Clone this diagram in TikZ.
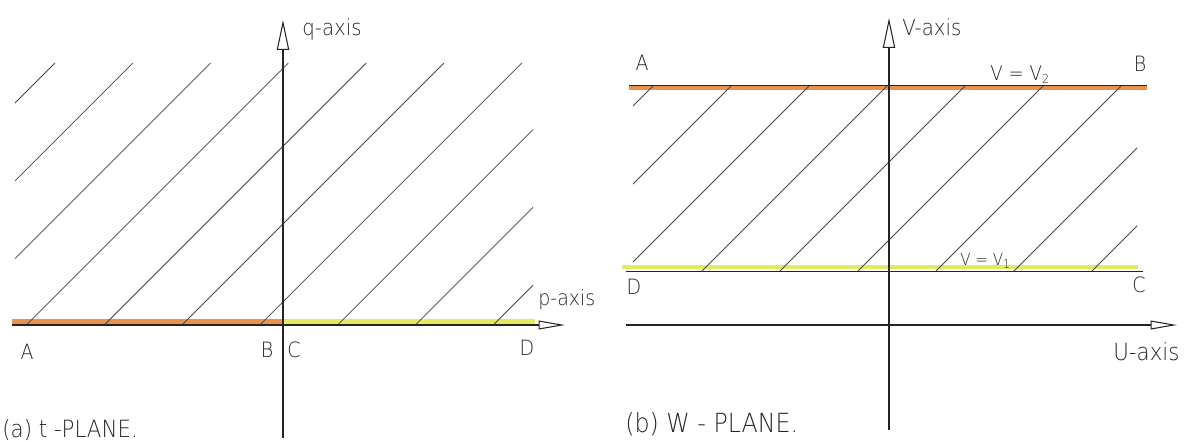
\documentclass[tikz,border=0pt]{standalone}
\usepackage{fontspec}
\usetikzlibrary{arrows.meta}
\newfontfamily\hand[FakeStretch=0.9]{DejaVu Sans ExtraLight}
\definecolor{orangeband}{RGB}{232,146,78}
\definecolor{yellowband}{RGB}{226,234,96}
\definecolor{ink}{RGB}{40,36,34}
\newcommand{\lowsub}[1]{{\fontsize{7}{7}\selectfont\raisebox{-0.45ex}{#1}}}
\begin{document}
\begin{tikzpicture}[x=0.02cm,y=-0.02cm,
  axisline/.style={line width=0.75pt, draw=ink},
  hatchline/.style={line width=0.45pt, draw=ink!85},
  oband/.style={line width=2.8pt, draw=orangeband},
  yband/.style={line width=2.8pt, draw=yellowband},
  vtip/.style={-{Triangle[open,length=17pt,width=7pt,line width=0.6pt]}},
  htip/.style={-{Triangle[open,length=15pt,width=5pt,line width=0.6pt]}},
  ptlbl/.style={font=\hand\fontsize{12}{12}\selectfont, inner sep=0pt, text=ink},
  axlbl/.style={font=\hand\fontsize{12.5}{12.5}\selectfont, inner sep=0pt, anchor=base west, text=ink},
  caplbl/.style={inner sep=0pt, anchor=base west, text=ink}]

\useasboundingbox (0,0) rectangle (1192,441);

% ================= (a) t-plane =================
\coordinate (qbot) at (283,438);
\coordinate (qtop) at (283,20);
\coordinate (pstart) at (12,325);
\coordinate (ptip) at (565,325);
\coordinate (obandL) at (12,321.5);
\coordinate (bandM) at (283,321.5);
\coordinate (ybandR) at (535,321.5);

\draw[oband] (obandL) -- (bandM);
\draw[yband] (bandM) -- (ybandR);

\begin{scope}
  \clip (15,63) rectangle (533,325);
  \foreach \c in {118,195.8,273.6,351.4,429.2,507,584.8,662.6,740.4,818.2}
    \draw[hatchline] ({\c-325},325) -- ({\c-63},63);
\end{scope}

\draw[axisline,htip] (pstart) -- (ptip);
\draw[axisline,vtip] (qbot) -- (qtop);

\node[axlbl] (qlab) at (302,35) {q-axis};
\node[axlbl,font=\hand\fontsize{12}{12}\selectfont] (plab) at (538,305) {p-axis};
\node[ptlbl] (tA) at (27,352) {A};
\node[ptlbl] (tB) at (267,350) {B};
\node[ptlbl] (tC) at (294,350) {C};
\node[ptlbl] (tD) at (527,348) {D};
\node[caplbl,font=\hand\fontsize{13.5}{13.5}\selectfont] (tcap) at (2,437) {(a) t -PLANE.};

% ================= (b) w-plane =================
\coordinate (vbot) at (889,430);
\coordinate (vtop) at (889,18);
\coordinate (ustart) at (626,325);
\coordinate (utip) at (1177,325);
\coordinate (topL) at (629,85.5);
\coordinate (topR) at (1147,85.5);
\coordinate (otopL) at (629,88);
\coordinate (otopR) at (1147,88);
\coordinate (botL) at (626,271.5);
\coordinate (botR) at (1143,271.5);
\coordinate (ybotL) at (622,267);
\coordinate (ybotR) at (1138,267);

\draw[oband] (otopL) -- (otopR);
\draw[yband] (ybotL) -- (ybotR);

\begin{scope}
  \clip (633,85.5) rectangle (1137,271.5);
  \foreach \c in {739,817,895,973,1051,1129,1207,1285,1363}
    \draw[hatchline] ({\c-271.5},271.5) -- ({\c-85.5},85.5);
\end{scope}

\draw[axisline] (topL) -- (topR);
\draw[axisline] (botL) -- (botR);
\draw[axisline,htip] (ustart) -- (utip);
\draw[axisline,vtip] (vbot) -- (vtop);

\node[axlbl] (vlab) at (902,35) {V-axis};
\node[axlbl,font=\hand\fontsize{13.5}{13.5}\selectfont] (ulab) at (1113,360) {U-axis};
\node[ptlbl] (wA) at (642,63) {A};
\node[ptlbl] (wB) at (1140,64) {B};
\node[ptlbl] (wD) at (634,287) {D};
\node[ptlbl] (wC) at (1139,285) {C};
\node[caplbl,font=\hand\fontsize{11.5}{11.5}\selectfont] (v2lab) at (990,80) {V = V\lowsub{2}};
\node[caplbl,font=\hand\fontsize{9.5}{9.5}\selectfont] (v1lab) at (960,265) {V = V\lowsub{1}};
\node[caplbl,font=\hand\fontsize{15}{15}\selectfont] (wcap) at (625,432) {(b) W - PLANE.};
\end{tikzpicture}
\end{document}
